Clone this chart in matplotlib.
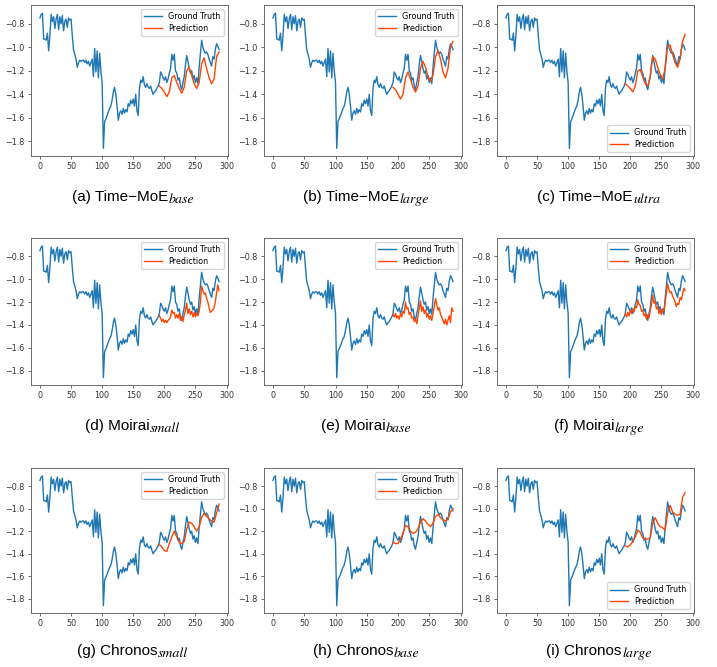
import matplotlib
matplotlib.use("Agg")
import matplotlib.pyplot as plt
import numpy as np

# ---------------- data ----------------
gt_x = list(range(0, 289, 2))
gt_y = [-0.75, -0.72, -0.71, -0.93, -0.93, -0.94, -0.88, -1.03, -0.90, -0.72,
        -0.78, -0.74, -0.84, -0.76, -0.72, -0.85, -0.74, -0.80, -0.73, -0.86,
        -0.78, -0.76, -0.83, -0.75, -0.77, -0.76, -0.90, -1.02, -1.06, -1.10,
        -1.17, -1.13, -1.11, -1.12, -1.11, -1.11, -1.13, -1.11, -1.14, -1.12,
        -1.16, -1.13, -1.10, -1.25, -1.01, -1.21, -1.03, -1.26, -1.05, -1.20,
        -1.30, -1.86, -1.63, -1.61, -1.58, -1.55, -1.52, -1.50, -1.45, -1.38,
        -1.34, -1.40, -1.50, -1.62, -1.56, -1.54, -1.57, -1.52, -1.56, -1.53,
        -1.55, -1.48, -1.50, -1.45, -1.48, -1.44, -1.50, -1.40, -1.54, -1.58,
        -1.35, -1.28, -1.30, -1.25, -1.32, -1.34, -1.31, -1.34, -1.35, -1.33,
        -1.37, -1.40, -1.38, -1.37, -1.35, -1.33, -1.30, -1.21, -1.23, -1.26,
        -1.28, -1.25, -1.30, -1.27, -1.22, -1.18, -1.06, -1.11, -1.06, -1.20,
        -1.22, -1.28, -1.26, -1.33, -1.36, -1.30, -1.25, -1.15, -1.07, -1.12,
        -1.18, -1.22, -1.20, -1.27, -1.24, -1.30, -1.26, -1.31, -1.17, -1.05,
        -0.94, -1.00, -1.03, -1.05, -1.04, -1.06, -1.10, -1.13, -1.16, -1.08,
        -1.10, -1.02, -0.97, -0.99, -1.02]

pred_x4 = list(range(192, 289, 4))
pred_x2 = list(range(192, 289, 2))

pred_timemoe_base = [-1.33, -1.35, -1.38, -1.42, -1.38, -1.26, -1.24, -1.30, -1.35, -1.39,
                     -1.34, -1.20, -1.17, -1.24, -1.31, -1.35, -1.30, -1.14, -1.09, -1.18,
                     -1.26, -1.31, -1.27, -1.08, -1.04]
pred_timemoe_large = [-1.34, -1.36, -1.40, -1.44, -1.40, -1.26, -1.21, -1.27, -1.34, -1.38,
                      -1.33, -1.18, -1.12, -1.17, -1.25, -1.29, -1.24, -1.08, -1.03, -1.10,
                      -1.21, -1.26, -1.18, -1.00, -0.95]
pred_timemoe_ultra = [-1.31, -1.33, -1.35, -1.38, -1.33, -1.20, -1.19, -1.25, -1.31, -1.33,
                      -1.25, -1.08, -1.10, -1.17, -1.23, -1.27, -1.18, -0.99, -0.98, -1.06,
                      -1.13, -1.17, -1.10, -0.95, -0.89]
pred_moirai_small = [-1.32, -1.34, -1.37, -1.35, -1.38, -1.36, -1.38, -1.36, -1.35, -1.33,
                     -1.27, -1.30, -1.29, -1.34, -1.31, -1.34, -1.30, -1.36, -1.33, -1.37,
                     -1.31, -1.27, -1.21, -1.30, -1.26, -1.31, -1.28, -1.33, -1.29, -1.33,
                     -1.30, -1.32, -1.28, -1.20, -1.06, -1.10, -1.13, -1.12, -1.17, -1.20,
                     -1.25, -1.29, -1.28, -1.27, -1.25, -1.20, -1.12, -1.05, -1.10]
pred_moirai_base = [-1.31, -1.33, -1.30, -1.34, -1.32, -1.35, -1.30, -1.33, -1.28, -1.30,
                    -1.20, -1.26, -1.25, -1.31, -1.29, -1.34, -1.33, -1.37, -1.35, -1.39,
                    -1.32, -1.26, -1.19, -1.28, -1.24, -1.30, -1.27, -1.33, -1.30, -1.35,
                    -1.32, -1.36, -1.30, -1.24, -1.17, -1.22, -1.27, -1.25, -1.31, -1.33,
                    -1.36, -1.39, -1.35, -1.40, -1.36, -1.32, -1.38, -1.25, -1.28]
pred_moirai_large = [-1.30, -1.33, -1.29, -1.32, -1.27, -1.30, -1.26, -1.28, -1.24, -1.25,
                     -1.18, -1.22, -1.23, -1.28, -1.27, -1.32, -1.30, -1.35, -1.31, -1.34,
                     -1.27, -1.22, -1.14, -1.21, -1.19, -1.26, -1.24, -1.30, -1.27, -1.31,
                     -1.26, -1.28, -1.20, -1.12, -1.04, -1.09, -1.12, -1.11, -1.15, -1.17,
                     -1.20, -1.24, -1.21, -1.22, -1.16, -1.18, -1.13, -1.08, -1.10]
pred_chronos_small = [-1.32, -1.34, -1.37, -1.38, -1.31, -1.25, -1.20, -1.25, -1.30, -1.31,
                      -1.29, -1.18, -1.12, -1.13, -1.16, -1.20, -1.16, -1.08, -1.04, -1.07,
                      -1.09, -1.11, -1.12, -1.04, -0.96]
pred_chronos_base = [-1.30, -1.31, -1.31, -1.27, -1.22, -1.15, -1.16, -1.20, -1.22, -1.21,
                     -1.18, -1.12, -1.09, -1.11, -1.14, -1.16, -1.13, -1.07, -1.05, -1.08,
                     -1.10, -1.11, -1.09, -1.03, -1.00]
pred_chronos_large = [-1.33, -1.34, -1.32, -1.29, -1.25, -1.19, -1.21, -1.26, -1.27, -1.27,
                      -1.26, -1.13, -1.08, -1.13, -1.16, -1.17, -1.19, -1.04, -0.97, -1.03,
                      -1.05, -1.06, -1.05, -0.90, -0.86]

captions = ["(a) Time\u2212MoE", "(b) Time\u2212MoE", "(c) Time\u2212MoE",
            "(d) Moirai", "(e) Moirai", "(f) Moirai",
            "(g) Chronos", "(h) Chronos", "(i) Chronos"]
subscripts = ["base", "large", "ultra", "small", "base", "large",
              "small", "base", "large"]
preds = [(pred_x4, pred_timemoe_base), (pred_x4, pred_timemoe_large), (pred_x4, pred_timemoe_ultra),
         (pred_x2, pred_moirai_small), (pred_x2, pred_moirai_base), (pred_x2, pred_moirai_large),
         (pred_x4, pred_chronos_small), (pred_x4, pred_chronos_base), (pred_x4, pred_chronos_large)]
legend_locs = ["upper right", "upper right", "lower right",
               "upper right", "upper right", "upper right",
               "upper right", "upper right", "lower right"]

# ---------------- layout ----------------
W, H = 717, 667
fig = plt.figure(figsize=(W / 100, H / 100), dpi=100)

col_lr = [(31, 228), (264, 462), (497, 694)]
row_tb = [(5, 156), (238, 385), (468, 613)]
cap_y = [201, 430, 655]   # baseline, pixels from top

caption_parts = []
for i in range(9):
    r, c = divmod(i, 3)
    l, rr = col_lr[c]
    t, b = row_tb[r]
    ax = fig.add_axes([l / W, 1 - b / H, (rr - l) / W, (b - t) / H])
    ax.plot(gt_x, gt_y, color='#1f77b4', lw=1.0, label='Ground Truth')
    px, py = preds[i]
    ax.plot(px, py, color='#ff4500', lw=1.0, label='Prediction')
    ax.set_xticks([0, 50, 100, 150, 200, 250, 300])
    ax.set_yticks([-1.8, -1.6, -1.4, -1.2, -1.0, -0.8])
    ax.set_xlim(-14.4, 302.4)
    ax.set_ylim(-1.925, -0.64)
    ax.tick_params(labelsize=5.8, length=2.5, width=0.5, pad=2, colors='#333333')
    for s in ax.spines.values():
        s.set_linewidth(0.6)
        s.set_color('#555555')
    ax.legend(loc=legend_locs[i], fontsize=5.8, handlelength=2.2, borderpad=0.4,
              labelspacing=0.3, framealpha=0.8, edgecolor='#cccccc')
    cx = (l + rr) / 2 + 3
    yb = 1 - cap_y[r] / H
    t1 = fig.text(0, yb, captions[i], ha='left', va='baseline', fontsize=11,
                  family='Liberation Sans')
    t2 = fig.text(0, yb - 2 / H, subscripts[i], ha='left', va='baseline', fontsize=10,
                  family='STIXGeneral', style='italic')
    caption_parts.append((cx, t1, t2))

fig.canvas.draw()
rend = fig.canvas.get_renderer()
for cx, t1, t2 in caption_parts:
    w1 = t1.get_window_extent(rend).width
    w2 = t2.get_window_extent(rend).width
    x0 = cx - (w1 + w2) / 2
    t1.set_x(x0 / W)
    t2.set_x((x0 + w1 + 0.5) / W)

fig.savefig("out.png", dpi=100)
